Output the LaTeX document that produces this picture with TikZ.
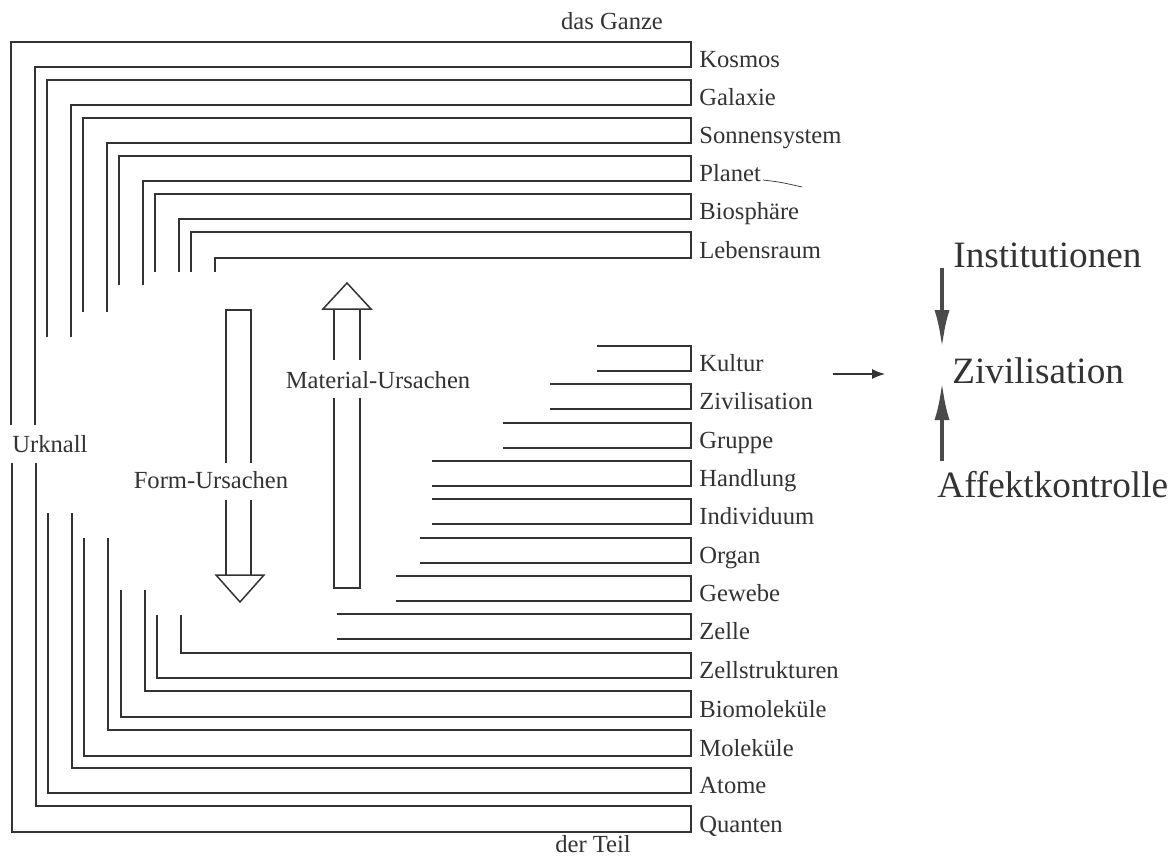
\documentclass[tikz,border=0pt]{standalone}
\usepackage{fontspec}
\setmainfont{Liberation Serif}
\usetikzlibrary{arrows.meta}
\definecolor{ink}{HTML}{333333}
\definecolor{arrowink}{HTML}{4A4A4A}
\begin{document}
\begin{tikzpicture}[x=0.5pt,y=-0.5pt,
  bracket/.style={draw=ink,line width=0.95pt,line join=miter},
  hollow/.style={draw=ink,line width=0.75pt,line join=miter},
  lab/.style={inner sep=0pt,text=ink,font=\fontsize{12.3}{14}\selectfont},
  biglab/.style={inner sep=0pt,text=ink,font=\fontsize{18.6}{22}\selectfont},
  bigarrow/.style={draw=arrowink,line width=2.1pt,-{Latex[length=19pt,width=7.5pt]}},
  smallarrow/.style={draw=ink,line width=0.6pt,-{Latex[length=6.5pt,width=5pt]}}]
  \fill[white] (0,0) rectangle (1171,857);
  \useasboundingbox (0,0) rectangle (1171,857);

  % outer levels: upper line and lower line turn down on the left
  \foreach \nm/\txt/\yu/\yl/\xu/\xl/\eu in {
      kosmos/Kosmos/42/67/11/35/425,
      galaxie/Galaxie/80/105/47/71/337,
      sonne/Sonnensystem/118/143/83/107/312,
      planet/Planet/156/181/119/143/285,
      bio/Biosphäre/194/219/155/179/272,
      leben/Lebensraum/232/258/191/215/272}{
    \draw[bracket] (\xu,\eu) -- (\xu,\yu) -- (691,\yu) -- (691,\yl) -- (\xl,\yl) -- (\xl,\eu);
    \node[lab,anchor=base west] (\nm) at (699,\yl) {\txt};
  }

  % middle levels: open brackets
  \foreach \nm/\txt/\yu/\yl/\xs in {
      kultur/Kultur/346/371/597,
      ziv/Zivilisation/384/409/550,
      gruppe/Gruppe/423/448/503,
      handlung/Handlung/461/486/432,
      indiv/Individuum/499/524/432,
      organ/Organ/538/563/420,
      gewebe/Gewebe/576/601/396,
      zelle/Zelle/614/639/337}{
    \draw[bracket] (\xs,\yu) -- (691,\yu) -- (691,\yl) -- (\xs,\yl);
    \node[lab,anchor=base west] (\nm) at (699,\yl) {\txt};
  }

  % inner levels: lines turn up on the left
  \foreach \nm/\txt/\yu/\yl/\xu/\xl/\s in {
      zstr/Zellstrukturen/653/678/181/157/615,
      biomol/Biomoleküle/691/717/145/121/590,
      mol/Moleküle/730/756/108/84/538,
      atome/Atome/768/793/72/48/513,
      quanten/Quanten/806/832/36/12/463}{
    \draw[bracket] (\xu,\s) -- (\xu,\yu) -- (691,\yu) -- (691,\yl) -- (\xl,\yl) -- (\xl,\s);
    \node[lab,anchor=base west] (\nm) at (699,\yl) {\txt};
  }

  \node[lab,anchor=base] (ganze) at (612,29) {das Ganze};
  \node[lab,anchor=base] (teil) at (593,852) {der Teil};
  \node[lab] (urknall) at (50,444) {Urknall};

  % pen stroke after "Planet"
  \coordinate (p0) at (763,180);
  \coordinate (p1) at (802,187);
  \draw[ink,line width=0.35pt] (p0) .. controls (780,182) .. (p1);

  % Form-Ursachen: hollow arrow pointing down
  \draw[hollow] (226,463) -- (226,310) -- (251,310) -- (251,463);
  \draw[hollow] (226,500) -- (226,575);
  \draw[hollow] (251,500) -- (251,575);
  \draw[hollow] (216,575) -- (264,575) -- (240,602) -- cycle;
  \node[lab] (form) at (211,480) {Form-Ursachen};

  % Material-Ursachen: hollow arrow pointing up
  \draw[hollow] (334,398) -- (334,588) -- (360,588) -- (360,398);
  \draw[hollow] (334,360) -- (334,309);
  \draw[hollow] (360,360) -- (360,309);
  \draw[hollow] (323,309) -- (371,309) -- (347,283) -- cycle;
  \node[lab] (material) at (378,380) {Material-Ursachen};

  % right-hand group
  \node[biglab,anchor=base west] (inst) at (953,267) {Institutionen};
  \node[biglab,anchor=base west] (ziv2) at (952,383) {Zivilisation};
  \node[biglab,anchor=base west] (affekt) at (937,497) {Affektkontrolle};
  \coordinate (d0) at (942,268);
  \coordinate (d1) at (942,348);
  \coordinate (u0) at (942,461);
  \coordinate (u1) at (942,382);
  \draw[bigarrow] (d0) -- (d1);
  \draw[bigarrow] (u0) -- (u1);
  \coordinate (s0) at (833,374);
  \coordinate (s1) at (885,374);
  \draw[smallarrow] (s0) -- (s1);
\end{tikzpicture}
\end{document}
